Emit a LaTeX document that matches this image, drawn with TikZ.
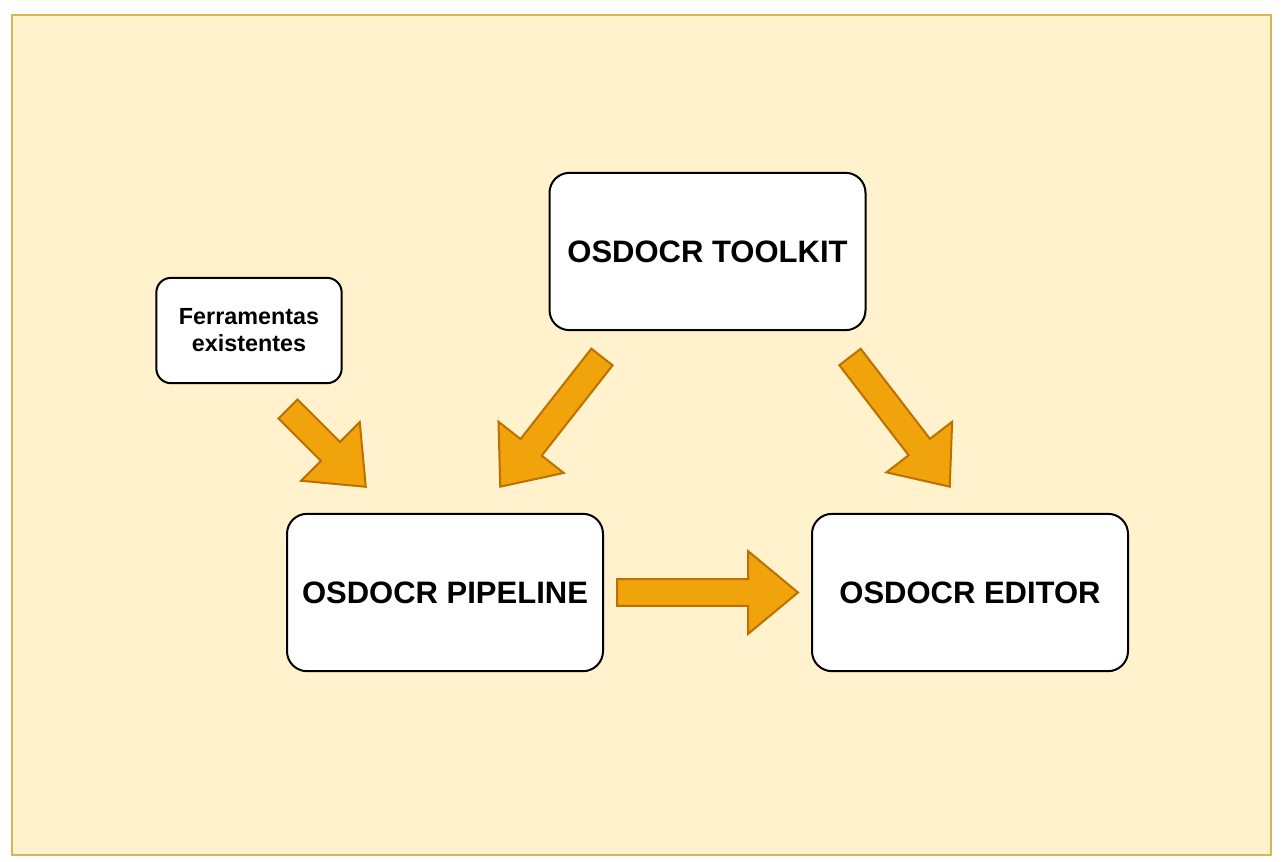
\documentclass[tikz,border=0pt]{standalone}
\usepackage{fontspec}
\setmainfont{Liberation Sans}
\usetikzlibrary{calc}

\definecolor{notefill}{HTML}{FFF2CC}
\definecolor{notedraw}{HTML}{D6B656}
\definecolor{arrowfill}{HTML}{F0A30A}
\definecolor{arrowdraw}{HTML}{BD7000}

\tikzset{
  bigbox/.style={draw=black, fill=white, line width=1.5pt, rounded corners=15pt,
    minimum width=237pt, minimum height=118pt, inner sep=0pt,
    font=\bfseries\fontsize{23.25}{28}\selectfont},
  smallbox/.style={draw=black, fill=white, line width=1.5pt, rounded corners=11pt,
    minimum width=139pt, minimum height=79pt, inner sep=0pt, align=center,
    font=\bfseries\fontsize{17.5}{20.25}\selectfont},
  fatarrow/.style={draw=arrowdraw, fill=arrowfill, line width=1.5pt, line join=miter}
}

% block arrow from tail coordinate to tip coordinate
\newcommand{\fatarrow}[2]{%
  \draw[fatarrow] let \p1=(#1), \p2=(#2),
      \n1={atan2(\y2-\y1,\x2-\x1)}, \n2={veclen(\x2-\x1,\y2-\y1)} in
    [shift={(\p1)}, rotate=\n1]
    (0pt,-10.1pt) -- ({\n2-37.5pt},-10.1pt) -- ({\n2-37.5pt},-31.1pt)
    -- (\n2,0pt) -- ({\n2-37.5pt},31.1pt) -- ({\n2-37.5pt},10.1pt)
    -- (0pt,10.1pt) -- cycle;
}

\begin{document}
\begin{tikzpicture}[x=0.75pt,y=-0.75pt]

    \useasboundingbox (0,0) rectangle (1282,861);
    \draw[draw=notedraw, fill=notefill, line width=1.5pt] (12,15) rectangle (1271,855);

    \node[bigbox] (toolkit) at(707.5,251.5) {OSDOCR TOOLKIT};
    \node[bigbox] (pipeline) at(445,592.5) {OSDOCR PIPELINE};
    \node[bigbox] (editor) at(970,592.5) {OSDOCR EDITOR};
    \node[smallbox] (tools) at(249,330.5) {Ferramentas\\existentes};

    \coordinate (toolsout) at(288,409);
    \coordinate (pipein) at(366,487);
    \coordinate (toolkitleft) at(602,357);
    \coordinate (pipetop) at(500,487);
    \coordinate (toolkitright) at(850,357);
    \coordinate (editortop) at(950,487);
    \coordinate (pipeout) at(617,592.5);
    \coordinate (editorin) at(798,592.5);

    \fatarrow{toolsout}{pipein}
    \fatarrow{toolkitleft}{pipetop}
    \fatarrow{toolkitright}{editortop}
    \fatarrow{pipeout}{editorin}

\end{tikzpicture}
\end{document}
